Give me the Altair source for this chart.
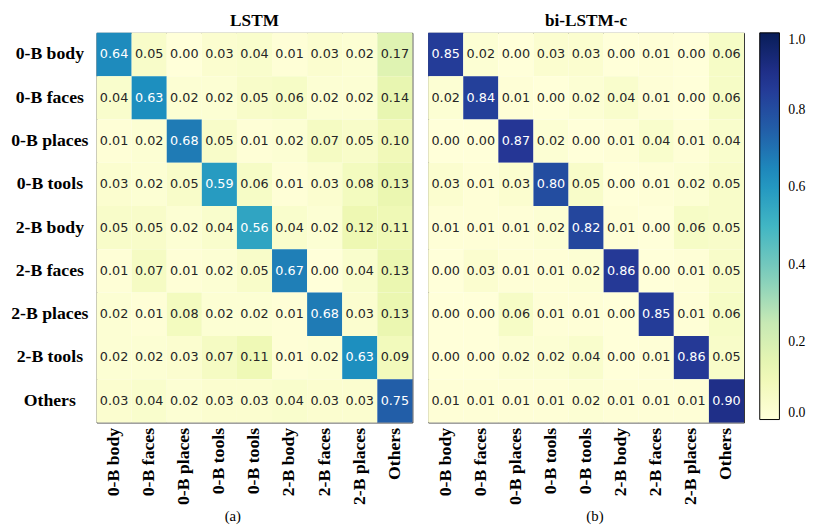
import altair as alt
import pandas as pd

row_labels = ["0-B body", "0-B faces", "0-B places", "0-B tools", "2-B body",
              "2-B faces", "2-B places", "2-B tools", "Others"]
col_labels = ["0-B body", "0-B faces", "0-B places", "0-B tools", "0-B tools",
              "2-B body", "2-B faces", "2-B places", "Others"]

lstm = [
    [0.64, 0.05, 0.00, 0.03, 0.04, 0.01, 0.03, 0.02, 0.17],
    [0.04, 0.63, 0.02, 0.02, 0.05, 0.06, 0.02, 0.02, 0.14],
    [0.01, 0.02, 0.68, 0.05, 0.01, 0.02, 0.07, 0.05, 0.10],
    [0.03, 0.02, 0.05, 0.59, 0.06, 0.01, 0.03, 0.08, 0.13],
    [0.05, 0.05, 0.02, 0.04, 0.56, 0.04, 0.02, 0.12, 0.11],
    [0.01, 0.07, 0.01, 0.02, 0.05, 0.67, 0.00, 0.04, 0.13],
    [0.02, 0.01, 0.08, 0.02, 0.02, 0.01, 0.68, 0.03, 0.13],
    [0.02, 0.02, 0.03, 0.07, 0.11, 0.01, 0.02, 0.63, 0.09],
    [0.03, 0.04, 0.02, 0.03, 0.03, 0.04, 0.03, 0.03, 0.75],
]
bilstm = [
    [0.85, 0.02, 0.00, 0.03, 0.03, 0.00, 0.01, 0.00, 0.06],
    [0.02, 0.84, 0.01, 0.00, 0.02, 0.04, 0.01, 0.00, 0.06],
    [0.00, 0.00, 0.87, 0.02, 0.00, 0.01, 0.04, 0.01, 0.04],
    [0.03, 0.01, 0.03, 0.80, 0.05, 0.00, 0.01, 0.02, 0.05],
    [0.01, 0.01, 0.01, 0.02, 0.82, 0.01, 0.00, 0.06, 0.05],
    [0.00, 0.03, 0.01, 0.01, 0.02, 0.86, 0.00, 0.01, 0.05],
    [0.00, 0.00, 0.06, 0.01, 0.01, 0.00, 0.85, 0.01, 0.06],
    [0.00, 0.00, 0.02, 0.02, 0.04, 0.00, 0.01, 0.86, 0.05],
    [0.01, 0.01, 0.01, 0.01, 0.02, 0.01, 0.01, 0.01, 0.90],
]

ylgnbu = ["#ffffd9", "#edf8b1", "#c7e9b4", "#7fcdbb", "#41b6c4",
          "#1d91c0", "#225ea8", "#253494", "#081d58"]
ylgnbu_stops = [i / 8 for i in range(9)]

SERIF = "Liberation Serif"
label_expr = "[" + ",".join("'%s'" % s for s in col_labels) + "][datum.value]"


def to_df(mat):
    rows = []
    for i, r in enumerate(mat):
        for j, v in enumerate(r):
            rows.append({"row": row_labels[i], "col": j, "value": v})
    return pd.DataFrame(rows)


def panel(mat, title, caption, caption_x, show_y):
    df = to_df(mat)
    x_axis = alt.Axis(labelExpr=label_expr, labelAngle=270, title=caption,
                      titleX=caption_x, titleFont=SERIF, titleFontSize=15,
                      titleFontWeight="normal", titlePadding=4,
                      labelFont=SERIF, labelFontSize=18, labelFontWeight="bold",
                      labelPadding=5, ticks=False, domain=False, labelColor="black",
                      titleColor="black")
    if show_y:
        y_axis = alt.Axis(title=None, labelFont=SERIF, labelFontSize=18,
                          labelFontWeight="bold", labelAlign="center",
                          labelPadding=48, ticks=False, domain=False,
                          labelColor="black")
    else:
        y_axis = None
    base = alt.Chart(df).encode(
        x=alt.X("col:O", sort=list(range(9)), axis=x_axis),
        y=alt.Y("row:N", sort=row_labels, axis=y_axis),
    )
    rect = base.mark_rect().encode(
        color=alt.Color(
            "value:Q",
            scale=alt.Scale(domain=ylgnbu_stops, range=ylgnbu, interpolate="rgb"),
            legend=alt.Legend(title=None, values=[0, 0.2, 0.4, 0.6, 0.8, 1.0],
                              format=".1f", gradientLength=393,
                              gradientThickness=20, labelFont=SERIF,
                              labelFontSize=14, labelColor="black",
                              gradientStrokeColor="black", gradientStrokeWidth=1,
                              labelOffset=9, offset=15),
        )
    )
    text = base.mark_text(font="DejaVu Sans", fontSize=13).encode(
        text=alt.Text("value:Q", format=".2f"),
        color=alt.condition(alt.datum.value > 0.5, alt.value("white"),
                            alt.value("#262626")),
    )
    return alt.layer(rect, text).properties(
        width=321, height=396,
        title=alt.TitleParams(title, font=SERIF, fontSize=17.5, fontWeight="bold",
                              offset=3, color="black"),
    )


left = panel(lstm, "LSTM", "(a)", 138, True)
right = panel(bilstm, "bi-LSTM-c", "(b)", 169, False)

chart = alt.hconcat(left, right, spacing=14).properties(
    padding={"left": 2, "top": 0, "right": 0, "bottom": 0},
    background="white",
).configure_view(stroke="#333333", strokeWidth=1)

chart.save("out.html", embed_options={"renderer": "svg", "actions": False})
